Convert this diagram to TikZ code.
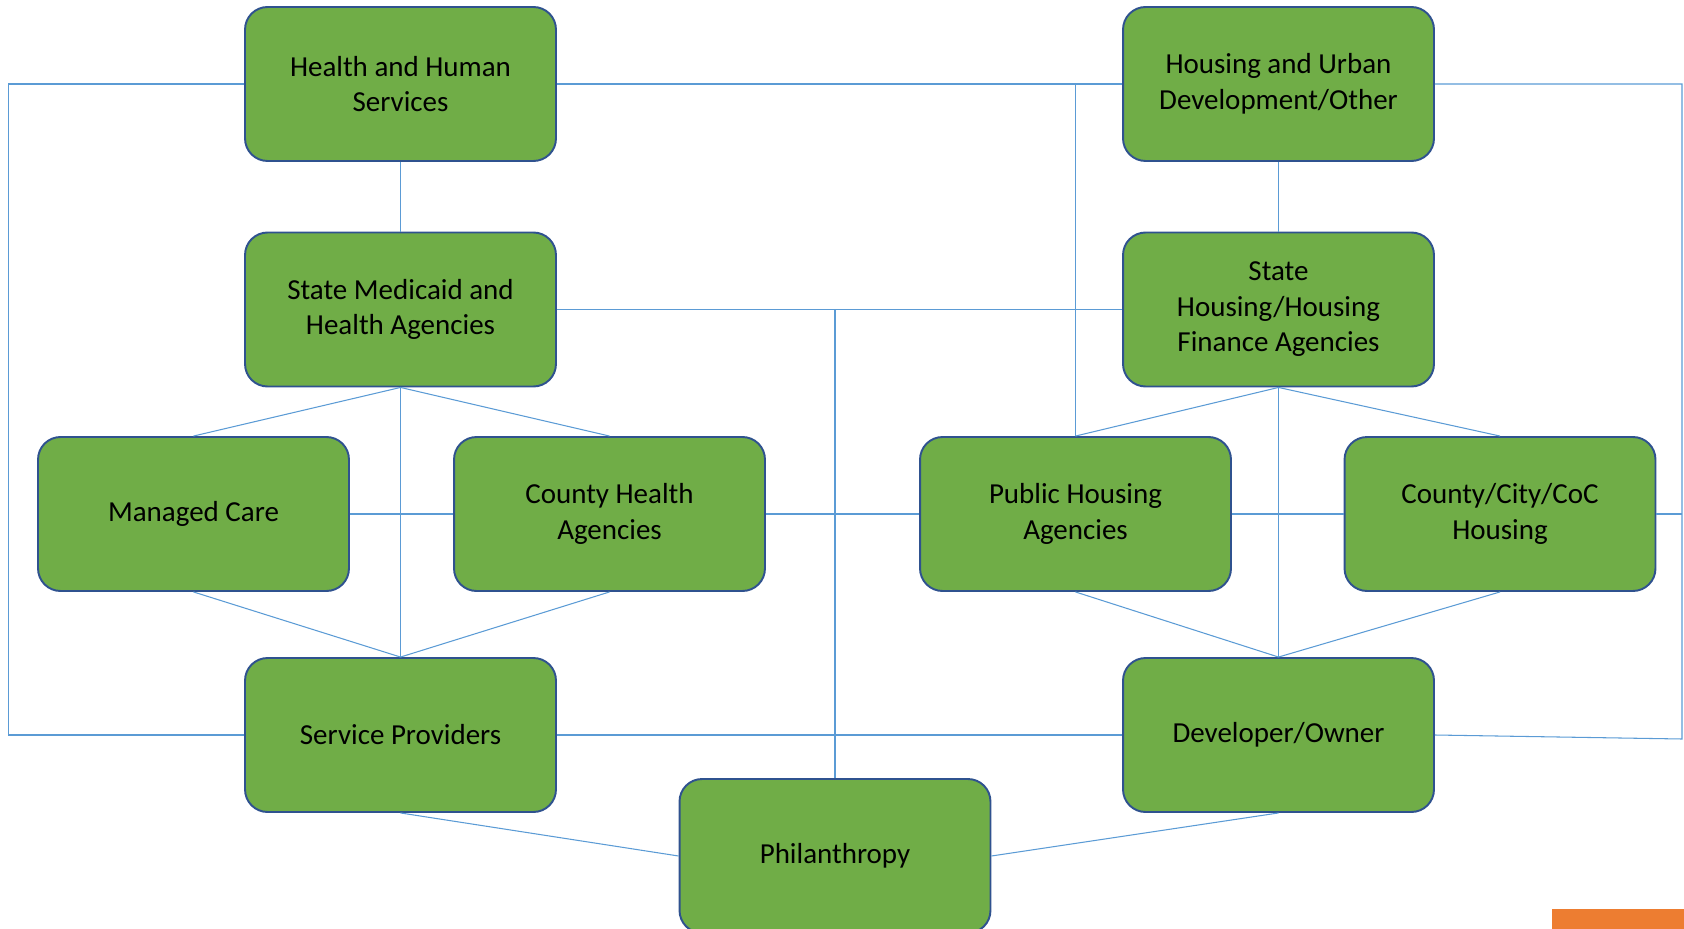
\documentclass[tikz,border=0pt]{standalone}
\usepackage{fontspec}
\setmainfont{Carlito}
\definecolor{boxgreen}{HTML}{70AD47}
\definecolor{boxline}{HTML}{2F528F}
\definecolor{linkblue}{HTML}{5B9BD5}
\definecolor{taborange}{HTML}{ED7D31}
\begin{document}
\begin{tikzpicture}[x=0.02cm,y=-0.02cm,
    agency/.style={draw=boxline,line width=1.1pt,fill=boxgreen,rounded corners=0.45cm,
      minimum width=6.22cm,minimum height=3.08cm,align=center,
      font=\fontsize{16.5}{20.2}\selectfont},
    link/.style={linkblue,line width=0.6pt}]
  \clip (0,0) rectangle (1684,929);
  \node[agency] (hhs) at (400.5,84) {Health and Human\\Services};
  \node[agency] (hud) at (1278.5,84) {Housing and Urban\\Development/Other};
  \node[agency] (smh) at (400.5,309.5) {State Medicaid and\\Health Agencies};
  \node[agency] (shf) at (1278.5,309.5) {State\\Housing/Housing\\Finance Agencies};
  \node[agency] (mc) at (193.5,514) {Managed Care};
  \node[agency] (cha) at (609.5,514) {County Health\\Agencies};
  \node[agency] (pha) at (1075.5,514) {Public Housing\\Agencies};
  \node[agency] (coc) at (1500,514) {County/City/CoC\\Housing};
  \node[agency] (sp) at (400.5,735) {Service Providers};
  \node[agency] (dev) at (1278.5,735) {Developer/Owner};
  \node[agency] (phil) at (835,856) {Philanthropy};
  \coordinate (lt) at (8.6,84);
  \coordinate (lb) at (8.6,735);
  \coordinate (rt) at (1682,84);
  \coordinate (rb) at (1682,739);
  \draw[link] (hhs.west) -- (lt) -- (lb) -- (sp.west);
  \draw[link] (hud.east) -- (rt) -- (rb) -- (dev.east);
  \draw[link] (hhs.east) -- (hud.west);
  \draw[link] (smh.east) -- (shf.west);
  \draw[link] (hhs.south) -- (smh.north);
  \draw[link] (hud.south) -- (shf.north);
  \draw[link] (pha.north) -- (pha.north |- hhs.east);
  \draw[link] (phil.north) -- (phil.north |- smh.east);
  \draw[link] (coc.east) -- (coc.east -| rt);
  \foreach \a/\b in {mc/cha,cha/pha,pha/coc} \draw[link] (\a.east) -- (\b.west);
  \foreach \a in {mc,cha} {
    \draw[link] (smh.south) -- (\a.north);
    \draw[link] (\a.south) -- (sp.north);
  }
  \foreach \a in {pha,coc} {
    \draw[link] (shf.south) -- (\a.north);
    \draw[link] (\a.south) -- (dev.north);
  }
  \draw[link] (smh.south) -- (sp.north);
  \draw[link] (shf.south) -- (dev.north);
  \draw[link] (sp.east) -- (dev.west);
  \draw[link] (sp.south) -- (phil.west);
  \draw[link] (dev.south) -- (phil.east);
  \fill[taborange] (1552,909) rectangle (1684,929);
\end{tikzpicture}
\end{document}
